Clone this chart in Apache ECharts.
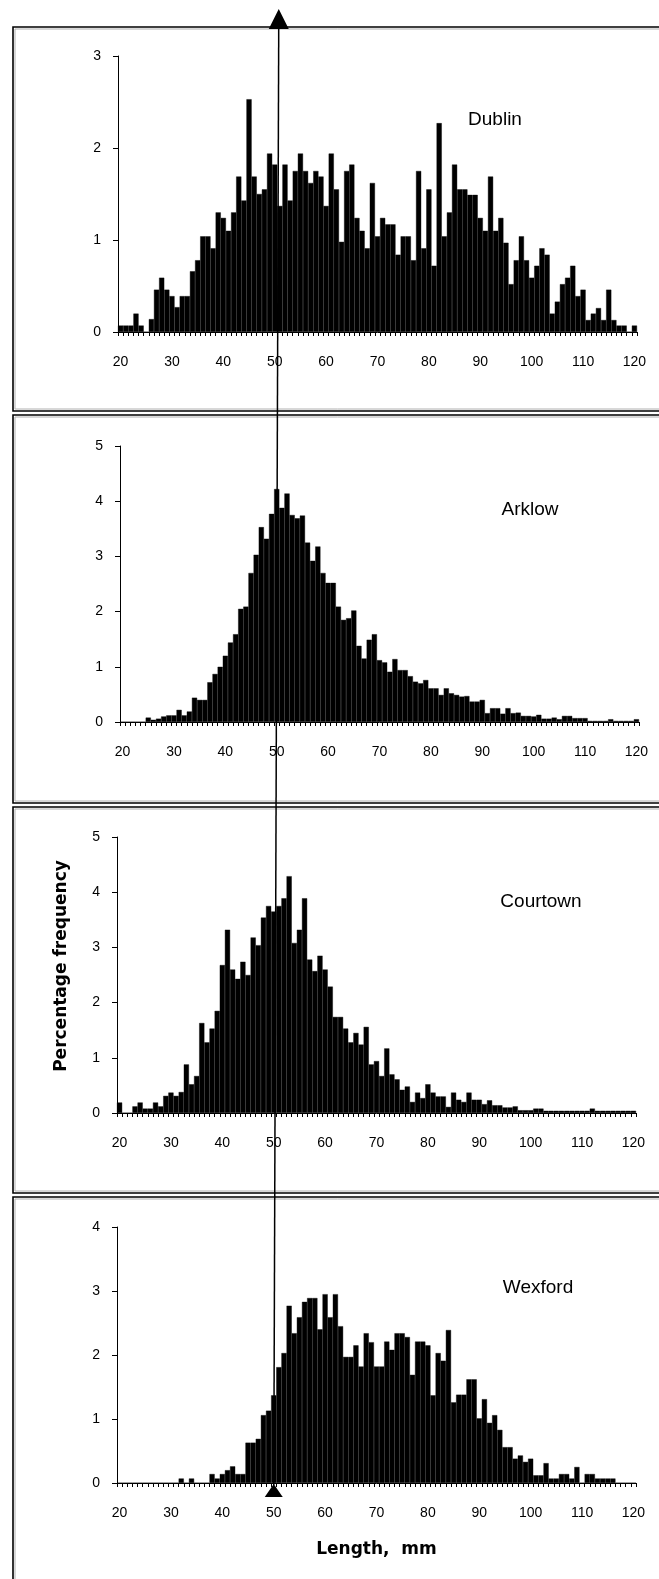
<!DOCTYPE html>
<html><head><meta charset="utf-8">
<script src="https://cdn.jsdelivr.net/npm/echarts@6/dist/echarts.min.js"></script>
<style>html,body{margin:0;padding:0;background:#fff;}#c{width:659px;height:1579px;}</style>
</head><body><div id="c"></div>
<script>
// Length classes, mm
const lengths = ['20','21','22','23','24','25','26','27','28','29','30','31','32','33','34','35','36','37','38','39',
'40','41','42','43','44','45','46','47','48','49','50','51','52','53','54','55','56','57','58','59',
'60','61','62','63','64','65','66','67','68','69','70','71','72','73','74','75','76','77','78','79',
'80','81','82','83','84','85','86','87','88','89','90','91','92','93','94','95','96','97','98','99',
'100','101','102','103','104','105','106','107','108','109','110','111','112','113','114','115','116','117','118','119','120'];

// Percentage frequency per 1 mm class
const dublin = [0.07,0.07,0.07,0.2,0.07,0,0.14,0.46,0.59,0.46,
0.39,0.27,0.39,0.39,0.66,0.78,1.04,1.04,0.91,1.30,
1.24,1.10,1.30,1.69,1.43,2.53,1.69,1.50,1.55,1.94,
1.82,1.37,1.82,1.43,1.75,1.94,1.75,1.62,1.75,1.69,
1.37,1.94,1.55,0.98,1.75,1.82,1.24,1.10,0.91,1.62,
1.04,1.24,1.17,1.17,0.84,1.04,1.04,0.78,1.75,0.91,
1.55,0.72,2.27,1.04,1.30,1.82,1.55,1.55,1.49,1.49,
1.24,1.10,1.69,1.10,1.24,0.97,0.52,0.78,1.04,0.78,
0.59,0.72,0.91,0.84,0.20,0.33,0.52,0.59,0.72,0.39,
0.46,0.13,0.20,0.26,0.13,0.46,0.13,0.07,0.07,0,0.07];

const arklow = [0,0,0,0,0,0.08,0.04,0.06,0.10,0.12,
0.12,0.22,0.12,0.19,0.44,0.40,0.40,0.72,0.87,1.00,
1.20,1.44,1.59,2.05,2.09,2.70,3.03,3.53,3.32,3.77,
4.22,3.88,4.14,3.75,3.69,3.74,3.25,2.92,3.18,2.70,
2.52,2.52,2.09,1.85,1.88,2.02,1.38,1.15,1.49,1.59,
1.12,1.08,0.91,1.14,0.94,0.94,0.83,0.73,0.70,0.76,
0.61,0.61,0.49,0.61,0.52,0.49,0.46,0.47,0.37,0.37,
0.40,0.16,0.25,0.25,0.15,0.25,0.16,0.17,0.11,0.11,
0.10,0.13,0.06,0.06,0.08,0.05,0.11,0.11,0.07,0.07,
0.07,0.02,0.02,0.02,0.02,0.05,0.02,0.02,0.02,0.02,0.05];

const courtown = [0.19,0,0,0.12,0.19,0.08,0.08,0.19,0.12,0.31,
0.37,0.31,0.38,0.88,0.52,0.67,1.63,1.28,1.53,1.85,
2.68,3.32,2.60,2.43,2.74,2.50,3.18,3.04,3.54,3.75,
3.65,3.75,3.89,4.29,3.08,3.32,3.89,2.78,2.57,2.85,
2.60,2.29,1.74,1.74,1.53,1.28,1.45,1.24,1.56,0.88,
0.94,0.67,1.17,0.70,0.61,0.42,0.48,0.20,0.37,0.27,
0.52,0.37,0.30,0.30,0.11,0.37,0.24,0.20,0.37,0.24,
0.24,0.16,0.23,0.14,0.14,0.10,0.10,0.12,0.05,0.05,
0.05,0.08,0.08,0.04,0.04,0.04,0.04,0.04,0.04,0.04,
0.04,0.04,0.08,0.04,0.04,0.04,0.04,0.04,0.04,0.04,0.04];

const wexford = [0,0,0,0,0,0,0,0,0,0,
0,0,0.07,0,0.07,0,0,0,0.14,0.07,
0.14,0.20,0.26,0.14,0.14,0.63,0.63,0.69,1.06,1.13,
1.37,1.81,2.03,2.77,2.34,2.59,2.83,2.89,2.89,2.40,
2.95,2.59,2.95,2.45,1.97,1.97,2.15,1.82,2.34,2.20,
1.82,1.82,2.21,2.08,2.34,2.34,2.28,1.69,2.21,2.21,
2.15,1.37,2.03,1.91,2.39,1.26,1.38,1.38,1.62,1.62,
1.01,1.31,0.94,1.06,0.83,0.56,0.56,0.38,0.43,0.33,
0.38,0.12,0.12,0.31,0.07,0.07,0.14,0.14,0.07,0.25,
0,0.14,0.14,0.07,0.07,0.07,0.07,0,0,0,0];

const siteNames = ['Dublin','Arklow','Courtown','Wexford'];
const yMax = [3,5,5,4];
const markedLength = '50';
const yTitle = 'Percentage frequency';
const xTitle = 'Length,  mm';

const FONT = 'Liberation Sans';
const series = [dublin, arklow, courtown, wexford];
const grids = [
  {left:118, top:56, width:519, height:276},
  {left:120, top:446, width:519, height:276},
  {left:117, top:837, width:519, height:276},
  {left:117, top:1227, width:519, height:256}
];
const frames = [[27,384],[415,388],[807,386],[1197,400]];
const titlePos = [[495,120],[530,510],[541,902],[538,1288]];

const chart = echarts.init(document.getElementById('c'), null, {renderer:'canvas', width:659, height:1579});

const option = {
  animation:false,
  backgroundColor:'#fff',
  grid: grids,
  xAxis: grids.map((g,i)=>({
    type:'category', gridIndex:i, data:lengths, boundaryGap:true,
    axisLine:{show:true, lineStyle:{color:'#000', width:1}},
    axisTick:{show:true, interval:0, length:4, inside:false, lineStyle:{color:'#000', width:1}},
    axisLabel:{interval:9, margin:23, color:'#000', fontFamily:FONT, fontSize:14},
    splitLine:{show:false}
  })),
  yAxis: grids.map((g,i)=>({
    type:'value', gridIndex:i, min:0, max:yMax[i], interval:1,
    axisLine:{show:true, lineStyle:{color:'#000', width:1}},
    axisTick:{show:true, length:5, lineStyle:{color:'#000', width:1}},
    axisLabel:{margin:17, color:'#000', fontFamily:FONT, fontSize:14},
    splitLine:{show:false}
  })),
  series: series.map((d,i)=>({
    type:'bar', xAxisIndex:i, yAxisIndex:i, data:d,
    barCategoryGap:'0%',
    itemStyle:{color:'#000', borderColor:'#000', borderWidth:0.4},
    silent:true
  }))
};
chart.setOption(option);

const gfx = [];
frames.forEach((f,i)=>{
  gfx.push({type:'rect', shape:{x:13, y:f[0], width:700, height:f[1]},
    style:{fill:null, stroke:'#000', lineWidth:1.6}, z:10});
  gfx.push({type:'rect', shape:{x:15, y:f[0]+2, width:700, height:f[1]-4},
    style:{fill:null, stroke:'#b0b0b0', lineWidth:1}, z:10});
});
siteNames.forEach((n,i)=>{
  gfx.push({type:'text', x:titlePos[i][0], y:titlePos[i][1],
    style:{text:n, fill:'#000', font:'19px "'+FONT+'"', textAlign:'center', textVerticalAlign:'middle'}, z:20});
});
gfx.push({type:'text', x:62, y:966, rotation:Math.PI/2,
  style:{text:yTitle, fill:'#000', font:'bold 17px "DejaVu Sans"', textAlign:'center', textVerticalAlign:'middle'}, z:20});
const g3 = grids[3];
gfx.push({type:'text', x:g3.left + g3.width/2, y:1550,
  style:{text:xTitle, fill:'#000', font:'bold 17px "DejaVu Sans"', textAlign:'center', textVerticalAlign:'middle'}, z:20});

// arrow marking 50 mm
const topPt = chart.convertToPixel({xAxisIndex:0, yAxisIndex:0}, [markedLength, 0]);
const botPt = chart.convertToPixel({xAxisIndex:3, yAxisIndex:3}, [markedLength, 0]);
const xTop = topPt[0] + 4, xBot = botPt[0];
const yTipTop = 9, yBase = 29;
gfx.push({type:'line', shape:{x1:xTop, y1:yBase-2, x2:xBot, y2:botPt[1]+2}, style:{stroke:'#000', lineWidth:1.5}, z:30});
gfx.push({type:'polygon', shape:{points:[[xTop,yTipTop],[xTop-10,yBase],[xTop+10,yBase]]}, style:{fill:'#000'}, z:30});
gfx.push({type:'polygon', shape:{points:[[xBot,botPt[1]+1],[xBot-9,botPt[1]+14],[xBot+9,botPt[1]+14]]}, style:{fill:'#000'}, z:30});

chart.setOption({graphic: gfx});
</script></body></html>
